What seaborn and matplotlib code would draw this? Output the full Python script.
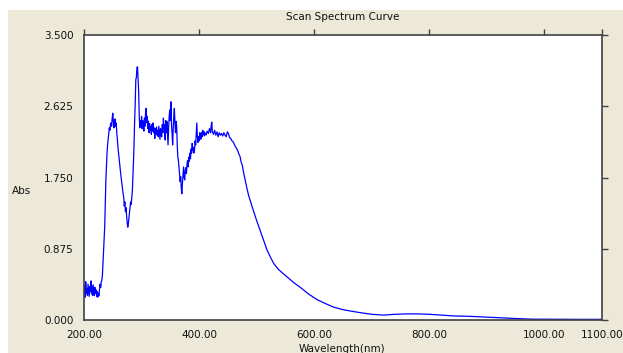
import matplotlib
matplotlib.use("Agg")
import matplotlib.pyplot as plt
import seaborn as sns
import pandas as pd
from matplotlib.patches import Rectangle
from matplotlib.ticker import FormatStrFormatter

wavelength = [
    200, 201, 202, 203, 204, 205, 206, 207, 208, 209, 210, 211, 212, 213, 214, 215, 216, 217, 218, 219,
    220, 221, 222, 223, 224, 225, 226, 227, 228, 229, 230, 231, 232, 233, 234, 235, 236, 237, 238, 239,
    240, 241, 242, 243, 244, 245, 246, 247, 248, 249, 250, 251, 252, 253, 254, 255, 256, 257, 258, 259,
    260, 261, 262, 263, 264, 265, 266, 267, 268, 269, 270, 271, 272, 273, 274, 275, 276, 277, 278, 279,
    280, 281, 282, 283, 284, 285, 286, 287, 288, 289, 290, 291, 292, 293, 294, 295, 296, 297, 298, 299,
    300, 301, 302, 303, 304, 305, 306, 307, 308, 309, 310, 311, 312, 313, 314, 315, 316, 317, 318, 319,
    320, 321, 322, 323, 324, 325, 326, 327, 328, 329, 330, 331, 332, 333, 334, 335, 336, 337, 338, 339,
    340, 341, 342, 343, 344, 345, 346, 347, 348, 349, 350, 351, 352, 353, 354, 355, 356, 357, 358, 359,
    360, 361, 362, 363, 364, 365, 366, 367, 368, 369, 370, 371, 372, 373, 374, 375, 376, 377, 378, 379,
    380, 381, 382, 383, 384, 385, 386, 387, 388, 389, 390, 391, 392, 393, 394, 395, 396, 397, 398, 399,
    400, 401, 402, 403, 404, 405, 406, 407, 408, 409, 410, 412, 414, 416, 418, 420, 421, 422, 423, 425,
    427, 429, 431, 433, 435, 437, 439, 441, 443, 445, 447, 449, 451, 453, 455, 457, 459, 461, 463, 465,
    467, 469, 471, 473, 475, 477, 480, 483, 486, 490, 494, 500, 506, 512, 518, 524, 530, 538, 546, 556,
    566, 576, 590, 605, 620, 633, 648, 663, 680, 700, 720, 740, 760, 780, 800, 820, 842, 870, 900, 930,
    960, 980, 1000, 1050, 1100,
]
absorbance = [
    0.30, 0.42, 0.28, 0.47, 0.33, 0.38, 0.30, 0.44, 0.36, 0.29, 0.41, 0.35, 0.48, 0.32, 0.39, 0.30, 0.43, 0.34, 0.30, 0.40,
    0.33, 0.37, 0.29, 0.35, 0.28, 0.33, 0.30, 0.38, 0.44, 0.40, 0.47, 0.49, 0.55, 0.70, 0.85, 1.00, 1.15, 1.45, 1.72, 1.90,
    2.05, 2.15, 2.22, 2.30, 2.36, 2.33, 2.40, 2.42, 2.38, 2.48, 2.54, 2.44, 2.36, 2.45, 2.47, 2.38, 2.42, 2.29, 2.22, 2.12,
    2.05, 1.98, 1.90, 1.84, 1.78, 1.72, 1.66, 1.60, 1.55, 1.51, 1.40, 1.45, 1.33, 1.38, 1.28, 1.20, 1.14, 1.18, 1.25, 1.31,
    1.40, 1.45, 1.42, 1.50, 1.58, 1.76, 1.95, 2.17, 2.45, 2.66, 2.95, 2.98, 3.10, 3.11, 2.95, 2.80, 2.50, 2.36, 2.45, 2.38,
    2.50, 2.35, 2.45, 2.40, 2.32, 2.48, 2.38, 2.55, 2.60, 2.42, 2.50, 2.35, 2.44, 2.30, 2.41, 2.33, 2.37, 2.28, 2.40, 2.32,
    2.42, 2.30, 2.36, 2.23, 2.35, 2.30, 2.37, 2.27, 2.33, 2.25, 2.38, 2.30, 2.22, 2.35, 2.28, 2.25, 2.40, 2.30, 2.48, 2.35,
    2.40, 2.21, 2.45, 2.30, 2.44, 2.28, 2.15, 2.35, 2.50, 2.58, 2.45, 2.68, 2.40, 2.30, 2.15, 2.35, 2.50, 2.60, 2.42, 2.30,
    2.44, 2.38, 2.15, 2.00, 1.96, 1.88, 1.80, 1.70, 1.76, 1.62, 1.55, 1.68, 1.78, 1.88, 1.75, 1.72, 1.84, 1.87, 1.80, 1.92,
    1.96, 1.88, 2.00, 1.95, 2.05, 1.98, 2.10, 2.05, 2.17, 2.08, 2.12, 2.05, 2.09, 2.20, 2.15, 2.28, 2.42, 2.25, 2.18, 2.25,
    2.20, 2.30, 2.29, 2.22, 2.30, 2.25, 2.33, 2.28, 2.32, 2.26, 2.30, 2.27, 2.32, 2.29, 2.35, 2.30, 2.39, 2.43, 2.31, 2.28,
    2.33, 2.27, 2.31, 2.25, 2.30, 2.27, 2.29, 2.26, 2.30, 2.27, 2.25, 2.31, 2.29, 2.24, 2.23, 2.20, 2.19, 2.16, 2.13, 2.11,
    2.08, 2.04, 2.01, 1.94, 1.90, 1.82, 1.72, 1.62, 1.53, 1.44, 1.35, 1.22, 1.10, 0.98, 0.86, 0.77, 0.69, 0.62, 0.57, 0.51,
    0.45, 0.40, 0.32, 0.25, 0.20, 0.16, 0.13, 0.11, 0.09, 0.07, 0.06, 0.07, 0.075, 0.075, 0.07, 0.06, 0.05, 0.045, 0.035, 0.025,
    0.015, 0.01, 0.01, 0.008, 0.008,
]
x_ticks = [200, 400, 600, 800, 1000, 1100]
y_ticks = [0.0, 0.875, 1.75, 2.625, 3.5]

title = "Scan Spectrum Curve"
x_label = "Wavelength(nm)"
y_label = "Abs"

df = pd.DataFrame({"wl": wavelength, "abs": absorbance})

sns.set_style("white")
plt.rcParams["font.family"] = ["DejaVu Sans"]

W, H = 623, 353
fig = plt.figure(figsize=(W / 100, H / 100), dpi=100)
fig.patch.set_facecolor("white")
beige = "#ECE9D8"
fig.patches.append(Rectangle((8 / W, 0), 1 - 8 / W, 1 - 10 / H, transform=fig.transFigure,
                             facecolor=beige, edgecolor="none", zorder=-10))

left, right, top, bottom = 84, 602, 35, 320
ax = fig.add_axes([left / W, (H - bottom) / H, (right - left) / W, (bottom - top) / H])
ax.set_facecolor("white")

sns.lineplot(data=df, x="wl", y="abs", ax=ax, color="#0000FF", linewidth=0.9, estimator=None, sort=False)

ax.set_xlim(200, 1100)
ax.set_ylim(0, 3.5)
ax.set_xticks(x_ticks)
ax.set_yticks(y_ticks)
ax.xaxis.set_major_formatter(FormatStrFormatter("%.2f"))
ax.yaxis.set_major_formatter(FormatStrFormatter("%.3f"))
ax.set_xlabel("")
ax.set_ylabel("")

spine_col = "#404040"
for s in ["left", "bottom", "top", "right"]:
    ax.spines[s].set_visible(True)
    ax.spines[s].set_color(spine_col)
    ax.spines[s].set_linewidth(1.2)

ax.tick_params(axis="both", which="major", direction="out", length=4, width=1, color=spine_col,
               labelsize=7.5, labelcolor="#111111", pad=3.5,
               top=True, right=True, labeltop=False, labelright=False)

fig.text(343 / W, 1 - 17 / H, title, ha="center", va="center", fontsize=7.5, color="#111111")
fig.text(12 / W, 1 - 191 / H, y_label, ha="left", va="center", fontsize=7.5, color="#111111")
fig.text(342 / W, 1 - 344 / H, x_label, ha="center", va="top", fontsize=7.5, color="#111111")

fig.savefig("out.png", dpi=100, facecolor=fig.get_facecolor())
